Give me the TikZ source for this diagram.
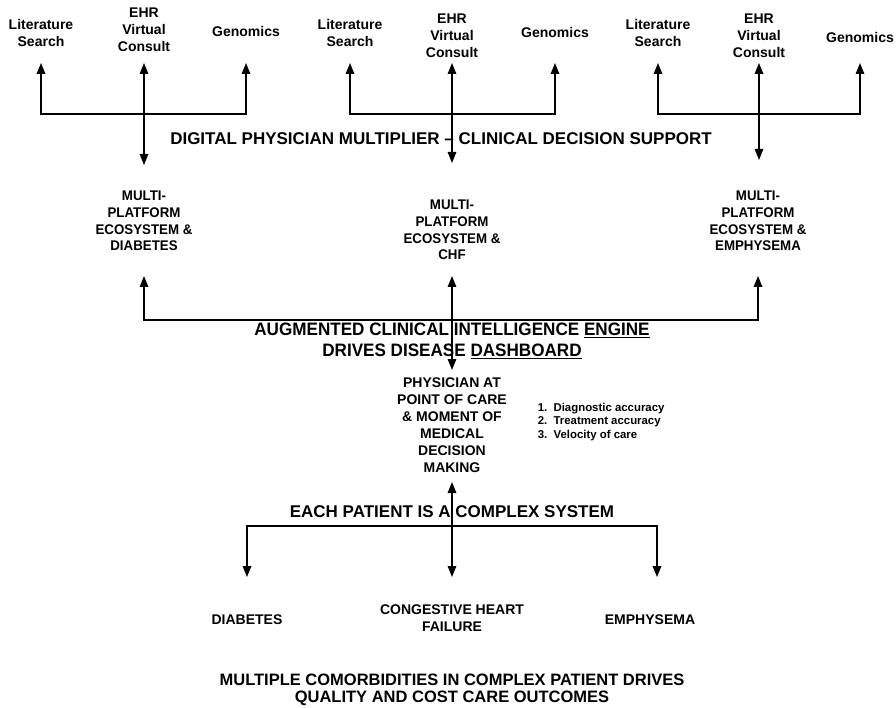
\documentclass[tikz,border=0pt]{standalone}
\usepackage{fontspec}
\setmainfont{Liberation Sans}
\newfontfamily\narrowsans[FakeStretch=0.95]{Liberation Sans}
\usetikzlibrary{arrows.meta}

\begin{document}
\begin{tikzpicture}[x=1pt, y=-1pt, line width=1.5pt,
    >={Triangle[length=11pt,width=8.5pt]},
    every node/.style={align=center, inner sep=0pt},
    src/.style={font=\fontsize{14}{17}\selectfont\bfseries},
    eco/.style={font=\narrowsans\fontsize{14}{16.7}\selectfont\bfseries},
    head/.style={font=\fontsize{17}{20}\selectfont\bfseries},
    engine/.style={font=\narrowsans\fontsize{18}{21}\selectfont\bfseries},
    gains/.style={font=\fontsize{11.4}{13.5}\selectfont\bfseries, align=left},
    foot/.style={font=\fontsize{16.5}{17.5}\selectfont\bfseries}]
    \useasboundingbox (0,0) rectangle (896,708);

    % sources feeding each disease platform
    \node[src] (litA) at (41,33) {Literature\\Search};
    \node[src] (ehrA) at (144,30) {EHR\\Virtual\\Consult};
    \node[src] (genA) at (246,32) {Genomics};
    \node[src] (litB) at (350,33) {Literature\\Search};
    \node[src] (ehrB) at (452,36) {EHR\\Virtual\\Consult};
    \node[src] (genB) at (555,33) {Genomics};
    \node[src] (litC) at (658,33) {Literature\\Search};
    \node[src] (ehrC) at (759,36) {EHR\\Virtual\\Consult};
    \node[src] (genC) at (860,37) {Genomics};

    \coordinate (tipT) at (0,63);
    \coordinate (barT) at (0,114);
    \coordinate (dnA) at (0,165);
    \coordinate (dnB) at (0,163);
    \coordinate (dnC) at (0,160);
    \draw[<->] (litA |- tipT) -- (litA |- barT) -- (genA |- barT) -- (genA |- tipT);
    \draw[<->] (ehrA |- tipT) -- (ehrA |- dnA);
    \draw[<->] (litB |- tipT) -- (litB |- barT) -- (genB |- barT) -- (genB |- tipT);
    \draw[<->] (ehrB |- tipT) -- (ehrB |- dnB);
    \draw[<->] (litC |- tipT) -- (litC |- barT) -- (genC |- barT) -- (genC |- tipT);
    \draw[<->] (ehrC |- tipT) -- (ehrC |- dnC);

    \node[head] (dps) at (441,139) {DIGITAL PHYSICIAN MULTIPLIER -- CLINICAL DECISION SUPPORT};

    % platforms
    \node[eco] (ecoA) at (144,221) {MULTI-\\PLATFORM\\ECOSYSTEM \&\\DIABETES};
    \node[eco] (ecoB) at (452,230) {MULTI-\\PLATFORM\\ECOSYSTEM \&\\CHF};
    \node[eco] (ecoC) at (758,221) {MULTI-\\PLATFORM\\ECOSYSTEM \&\\EMPHYSEMA};

    \coordinate (tipM) at (0,276);
    \coordinate (barM) at (0,320);
    \coordinate (dnM) at (0,370);
    \draw[<->] (ecoA |- tipM) -- (ecoA |- barM) -- (ecoC |- barM) -- (ecoC |- tipM);

    \node[engine] (aci) at (452,341) {AUGMENTED CLINICAL INTELLIGENCE \underline{ENGINE}\\DRIVES DISEASE \underline{DASHBOARD}};

    % physician in the middle
    \node[src] (doc) at (452,425) {PHYSICIAN AT\\POINT OF CARE\\\& MOMENT OF\\MEDICAL\\DECISION\\MAKING};
    \node[gains, anchor=west] (aims) at (537,422) {1.\ \ Diagnostic accuracy\\2.\ \ Treatment accuracy\\3.\ \ Velocity of care};
    \draw[<->] (ecoB |- tipM) -- (doc |- dnM);

    \node[head] (sys) at (452,512) {EACH PATIENT IS A COMPLEX SYSTEM};

    % comorbidities
    \node[src] (dia) at (247,620) {DIABETES};
    \node[src] (chf) at (452,618) {CONGESTIVE HEART\\FAILURE};
    \node[src] (emp) at (650,620) {EMPHYSEMA};

    \coordinate (upL) at (0,482);
    \coordinate (barL) at (0,526);
    \coordinate (tipL) at (0,577);
    \coordinate (sysR) at (657,526);
    \draw[<->] (dia |- tipL) -- (dia |- barL) -- (sysR) -- (sysR |- tipL);
    \draw[<->] (doc |- upL) -- (chf |- tipL);

    \node[foot] (cost) at (452,690) {MULTIPLE COMORBIDITIES IN COMPLEX PATIENT DRIVES\\QUALITY AND COST CARE OUTCOMES};
\end{tikzpicture}
\end{document}
